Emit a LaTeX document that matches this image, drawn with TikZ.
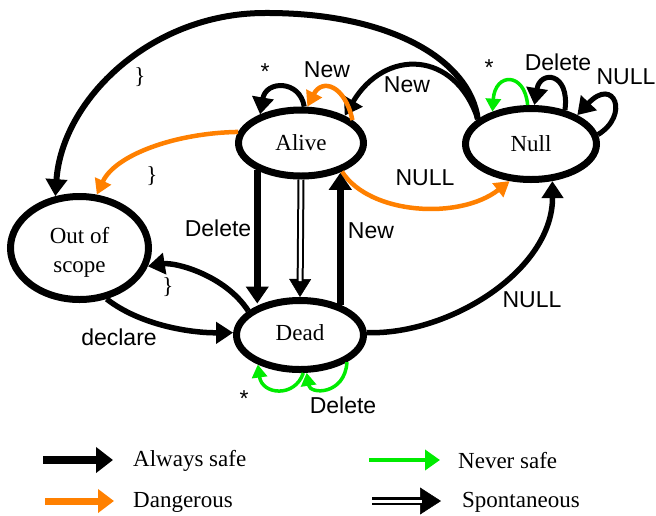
\documentclass[tikz,border=0pt]{standalone}
\usepackage{fontspec}
\setmainfont{Liberation Serif}
\newfontfamily\labfont{Liberation Sans}
\usetikzlibrary{arrows.meta,shapes.geometric}
\definecolor{dorange}{RGB}{255,128,0}
\definecolor{ngreen}{RGB}{0,235,0}
\begin{document}
\begin{tikzpicture}[x=1pt,y=-1pt,
 state/.style={ellipse,draw,line width=7pt,inner sep=0pt,font=\fontsize{23}{28}\selectfont,align=center},
 statetext/.style={inner sep=0pt,font=\fontsize{23}{29}\selectfont,align=center},
 safe/.style={line width=5.5pt,-{Triangle[length=17pt,width=21pt]}},
 thick safe/.style={line width=7pt,-{Triangle[length=17pt,width=22pt]}},
 danger/.style={color=dorange,line width=4.5pt,-{Triangle[length=15pt,width=17pt]}},
 never/.style={color=ngreen,line width=3.5pt,-{Triangle[length=13pt,width=15pt]}},
 lab/.style={font=\labfont\fontsize{23}{26}\selectfont,inner sep=0pt},
 brace/.style={font=\fontsize{23}{26}\selectfont,inner sep=0pt},
 legtext/.style={anchor=west,font=\fontsize{23}{26}\selectfont,inner sep=0pt}]
\useasboundingbox (0,0) rectangle (656,515);

% states
\node[state,minimum width=125pt,minimum height=66pt] (Alive) at (301,143) {Alive};
\node[state,minimum width=127pt,minimum height=69pt] (Dead) at (300,335) {};
\node[statetext] (DeadT) at (300,333) {Dead};
\node[state,minimum width=131pt,minimum height=71pt] (Null) at (531,144) {Null};
\node[state,minimum width=138pt,minimum height=103pt] (Out) at (79.5,248) {};
\node[statetext] (OutT) at (79.5,252) {Out of\\scope};

% Null -> Out of scope (big arc)
\draw[safe,line width=6pt] (Null.155) .. controls (470,60) and (390,12) .. (263,13)
  .. controls (150,14) and (62,100) .. (Out.115);
\node[brace] (b1) at (140,77) {\}};

% New: Null -> Alive
\draw[safe,line width=5pt] (Null.155) .. controls (455,50) and (385,48) .. (Alive.32);
\node[lab] (l1) at (407,85) {New};

% Alive self loops
\draw[safe,line width=5pt] (Alive.85) .. controls (300,80) and (266,80) .. (Alive.145);
\node[lab] (l2) at (265,72) {*};
\draw[danger] (Alive.24) .. controls (345,85) and (322,78) .. (Alive.80);
\node[lab] (l3) at (327,70) {New};

% Alive -> Out (orange)
\draw[danger] (Alive.170) .. controls (175,133) and (115,155) .. (Out.72);
\node[brace] (b2) at (152,176) {\}};

% Alive -> Null (orange)
\draw[danger] (Alive.-35) .. controls (370,215) and (460,220) .. (Null.240);
\node[lab] (l4) at (425,178) {NULL};

% Null self loops
\draw[never] (Null.95) .. controls (525,72) and (495,72) .. (Null.140);
\node[lab] (l5) at (489,68) {*};
\draw[safe,line width=5pt] (Null.45) .. controls (570,72) and (540,70) .. (Null.85);
\node[lab] (l6) at (558,62) {Delete};
\draw[safe,line width=5pt] (Null.8) .. controls (630,115) and (614,76) .. (Null.32);
\node[lab] (l7) at (626,77) {NULL};

% Alive <-> Dead
\draw[thick safe] (Alive.-148) -- (Alive.-148 |- Dead.140);
\node[lab] (l8) at (218,228) {Delete};
\draw[line width=0.5pt,-{Triangle[length=18pt,width=22pt]}] (Alive.south) -- (Dead.north);
\draw[double,double distance=3pt,line width=2pt,shorten >=16pt] (Alive.south) -- (Dead.north);
\draw[thick safe] (Dead.37) -- (Dead.37 |- Alive.-38);
\node[lab] (l9) at (371,231) {New};

% Dead <-> Out
\draw[safe] (Dead.155) .. controls (225,275) and (175,262) .. (Out.-15);
\node[brace] (b3) at (168,287) {\}};
\draw[safe] (Out.-62) .. controls (140,325) and (190,333) .. (Dead.178);
\node[lab] (l10) at (119,337) {declare};

% Dead -> Null
\draw[safe] (Dead.2) .. controls (450,335) and (553,270) .. (Null.-60);
\node[lab] (l11) at (532,300) {NULL};

% Dead self loops
\draw[never] (Dead.-85) .. controls (295,398) and (262,395) .. (Dead.-145);
\node[lab] (l12) at (244,399) {*};
\draw[never] (Dead.-30) .. controls (345,395) and (310,395) .. (Dead.-80);
\node[lab] (l13) at (343,405) {Delete};

% legend
\coordinate (la1) at (43,460); \coordinate (la2) at (113,460);
\draw[line width=8pt,-{Triangle[length=17pt,width=25pt]}] (la1) -- (la2);
\node[legtext] (lt1) at (133,461) {Always safe};
\coordinate (lb1) at (45,501); \coordinate (lb2) at (114,501);
\draw[color=dorange,line width=7pt,-{Triangle[length=16pt,width=23pt]}] (lb1) -- (lb2);
\node[legtext] (lt2) at (133,502) {Dangerous};
\coordinate (lc1) at (369,460); \coordinate (lc2) at (440,460);
\draw[color=ngreen,line width=4pt,-{Triangle[length=15pt,width=20pt]}] (lc1) -- (lc2);
\node[legtext] (lt3) at (458,461) {Never safe};
\coordinate (ld1) at (372,501); \coordinate (ld2) at (441,501);
\draw[line width=0.5pt,-{Triangle[length=21pt,width=27pt]}] (ld1) -- (ld2);
\draw[double,double distance=3pt,line width=2.5pt,shorten >=19pt] (ld1) -- (ld2);
\node[legtext] (lt4) at (462,502) {Spontaneous};
\end{tikzpicture}
\end{document}
